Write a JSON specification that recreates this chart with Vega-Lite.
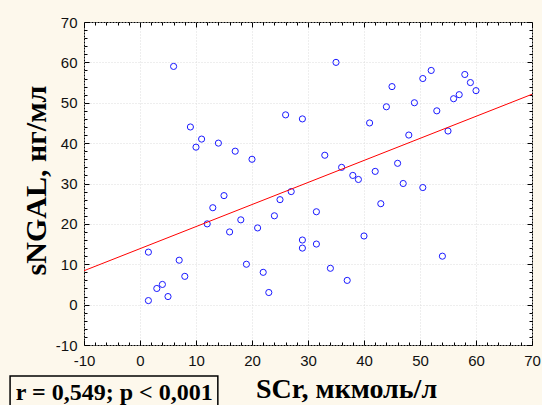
{
  "$schema": "https://vega.github.io/schema/vega-lite/v6.json",
  "autosize": {"type": "none"},
  "width": 448,
  "height": 323,
  "padding": {"left": 84, "top": 22, "right": 10, "bottom": 60},
  "background": "#fdf8ec",
  "config": {
    "view": {"stroke": "#000000", "strokeWidth": 1, "fill": "#ffffff"},
    "axis": {"domain": false, "labelFont": "Liberation Sans", "labelFontSize": 15, "labelColor": "#111111", "tickColor": "#000000", "titleFont": "Liberation Serif", "titleFontWeight": "bold", "titleColor": "#000000"}
  },
  "datasets": {
    "pts": [
      {"scr": 6, "ngal": 59}, {"scr": 9, "ngal": 44}, {"scr": 10, "ngal": 39}, {"scr": 11, "ngal": 41},
      {"scr": 14, "ngal": 40}, {"scr": 17, "ngal": 38}, {"scr": 20, "ngal": 36}, {"scr": 26, "ngal": 47},
      {"scr": 29, "ngal": 46}, {"scr": 35, "ngal": 60}, {"scr": 45, "ngal": 54}, {"scr": 50.5, "ngal": 56},
      {"scr": 52, "ngal": 58}, {"scr": 58, "ngal": 57}, {"scr": 59, "ngal": 55}, {"scr": 60, "ngal": 53},
      {"scr": 57, "ngal": 52}, {"scr": 56, "ngal": 51}, {"scr": 49, "ngal": 50}, {"scr": 44, "ngal": 49},
      {"scr": 53, "ngal": 48}, {"scr": 41, "ngal": 45}, {"scr": 48, "ngal": 42}, {"scr": 55, "ngal": 43},
      {"scr": 33, "ngal": 37}, {"scr": 36, "ngal": 34}, {"scr": 46, "ngal": 35}, {"scr": 42, "ngal": 33},
      {"scr": 38, "ngal": 32}, {"scr": 39, "ngal": 31}, {"scr": 47, "ngal": 30}, {"scr": 50.5, "ngal": 29},
      {"scr": 43, "ngal": 25}, {"scr": 31.5, "ngal": 23}, {"scr": 29, "ngal": 16}, {"scr": 29, "ngal": 14},
      {"scr": 31.5, "ngal": 15}, {"scr": 40, "ngal": 17}, {"scr": 34, "ngal": 9}, {"scr": 37, "ngal": 6},
      {"scr": 54, "ngal": 12}, {"scr": 27, "ngal": 28}, {"scr": 25, "ngal": 26}, {"scr": 24, "ngal": 22},
      {"scr": 21, "ngal": 19}, {"scr": 18, "ngal": 21}, {"scr": 16, "ngal": 18}, {"scr": 15, "ngal": 27},
      {"scr": 13, "ngal": 24}, {"scr": 12, "ngal": 20}, {"scr": 19, "ngal": 10}, {"scr": 22, "ngal": 8},
      {"scr": 23, "ngal": 3}, {"scr": 1.5, "ngal": 13}, {"scr": 7, "ngal": 11}, {"scr": 8, "ngal": 7},
      {"scr": 4, "ngal": 5}, {"scr": 3, "ngal": 4}, {"scr": 5, "ngal": 2}, {"scr": 1.5, "ngal": 1}
    ],
    "fit": [{"scr": -10, "ngal": 8.4}, {"scr": 70, "ngal": 52.1}],
    "box": [{"x1": -23.2, "x2": 13.9, "y1": -17.7, "y2": -27}],
    "stat": [{"scr": -4.6, "ngal": -23.6, "label": "r = 0,549; p < 0,001"}]
  },
  "resolve": {"axis": {"x": "independent", "y": "independent"}},
  "layer": [
    {
      "data": {"name": "pts"},
      "mark": {"type": "point", "shape": "circle", "filled": false, "color": "#1a1aff", "size": 38, "strokeWidth": 1, "opacity": 1},
      "encoding": {
        "x": {"field": "scr", "type": "quantitative", "scale": {"domain": [-10, 70], "nice": false, "zero": false},
          "axis": {"orient": "bottom", "values": [-10, 0, 10, 20, 30, 40, 50, 60, 70], "labelExpr": "'' + datum.value", "tickSize": -5, "labelPadding": 13, "grid": true, "gridColor": "#dcdcdc", "gridDash": [1, 2], "title": "SCr, мкмоль/л", "titleFontSize": 28, "titleX": 262, "titleY": 52, "titleAlign": "center", "titleBaseline": "alphabetic", "labelFlush": false}},
        "y": {"field": "ngal", "type": "quantitative", "scale": {"domain": [-10, 70], "nice": false, "zero": false},
          "axis": {"orient": "left", "values": [-10, 0, 10, 20, 30, 40, 50, 60, 70], "labelExpr": "'' + datum.value", "tickSize": -5, "labelPadding": 12, "grid": true, "gridColor": "#dcdcdc", "gridDash": [1, 2], "title": "sNGAL, нг/мл", "titleFontSize": 30, "titleX": -39, "titleY": 158, "titleAngle": -90, "titleAlign": "center", "titleBaseline": "alphabetic", "labelFlush": false}}
      }
    },
    {
      "data": {"name": "fit"},
      "mark": {"type": "line", "color": "#ff0000", "strokeWidth": 1},
      "encoding": {
        "x": {"field": "scr", "type": "quantitative", "scale": {"domain": [-10, 70], "nice": false, "zero": false},
          "axis": {"orient": "top", "values": [-10, 0, 10, 20, 30, 40, 50, 60, 70], "tickSize": -5, "labels": false, "grid": false, "title": null}},
        "y": {"field": "ngal", "type": "quantitative", "scale": {"domain": [-10, 70], "nice": false, "zero": false},
          "axis": {"orient": "right", "values": [-10, 0, 10, 20, 30, 40, 50, 60, 70], "tickSize": -5, "labels": false, "grid": false, "title": null}}
      }
    },
    {
      "data": {"name": "box"},
      "mark": {"type": "rect", "fill": null, "stroke": "#000000", "strokeWidth": 1.5},
      "encoding": {
        "x": {"field": "x1", "type": "quantitative", "scale": {"domain": [-10, 70], "nice": false, "zero": false},
          "axis": {"orient": "bottom", "values": [-8, -6, -4, -2, 2, 4, 6, 8, 12, 14, 16, 18, 22, 24, 26, 28, 32, 34, 36, 38, 42, 44, 46, 48, 52, 54, 56, 58, 62, 64, 66, 68], "tickSize": -3, "labels": false, "grid": false, "title": null}},
        "x2": {"field": "x2"},
        "y": {"field": "y1", "type": "quantitative", "scale": {"domain": [-10, 70], "nice": false, "zero": false},
          "axis": {"orient": "left", "values": [-8, -6, -4, -2, 2, 4, 6, 8, 12, 14, 16, 18, 22, 24, 26, 28, 32, 34, 36, 38, 42, 44, 46, 48, 52, 54, 56, 58, 62, 64, 66, 68], "tickSize": -3, "labels": false, "grid": false, "title": null}},
        "y2": {"field": "y2"}
      }
    },
    {
      "data": {"name": "stat"},
      "mark": {"type": "text", "font": "Liberation Serif", "fontWeight": "bold", "fontSize": 24, "align": "center", "baseline": "alphabetic", "color": "#000000"},
      "encoding": {
        "x": {"field": "scr", "type": "quantitative", "scale": {"domain": [-10, 70], "nice": false, "zero": false},
          "axis": {"orient": "top", "values": [-8, -6, -4, -2, 2, 4, 6, 8, 12, 14, 16, 18, 22, 24, 26, 28, 32, 34, 36, 38, 42, 44, 46, 48, 52, 54, 56, 58, 62, 64, 66, 68], "tickSize": -3, "labels": false, "grid": false, "title": null}},
        "y": {"field": "ngal", "type": "quantitative", "scale": {"domain": [-10, 70], "nice": false, "zero": false},
          "axis": {"orient": "right", "values": [-8, -6, -4, -2, 2, 4, 6, 8, 12, 14, 16, 18, 22, 24, 26, 28, 32, 34, 36, 38, 42, 44, 46, 48, 52, 54, 56, 58, 62, 64, 66, 68], "tickSize": -3, "labels": false, "grid": false, "title": null}},
        "text": {"field": "label"}
      }
    }
  ]
}
